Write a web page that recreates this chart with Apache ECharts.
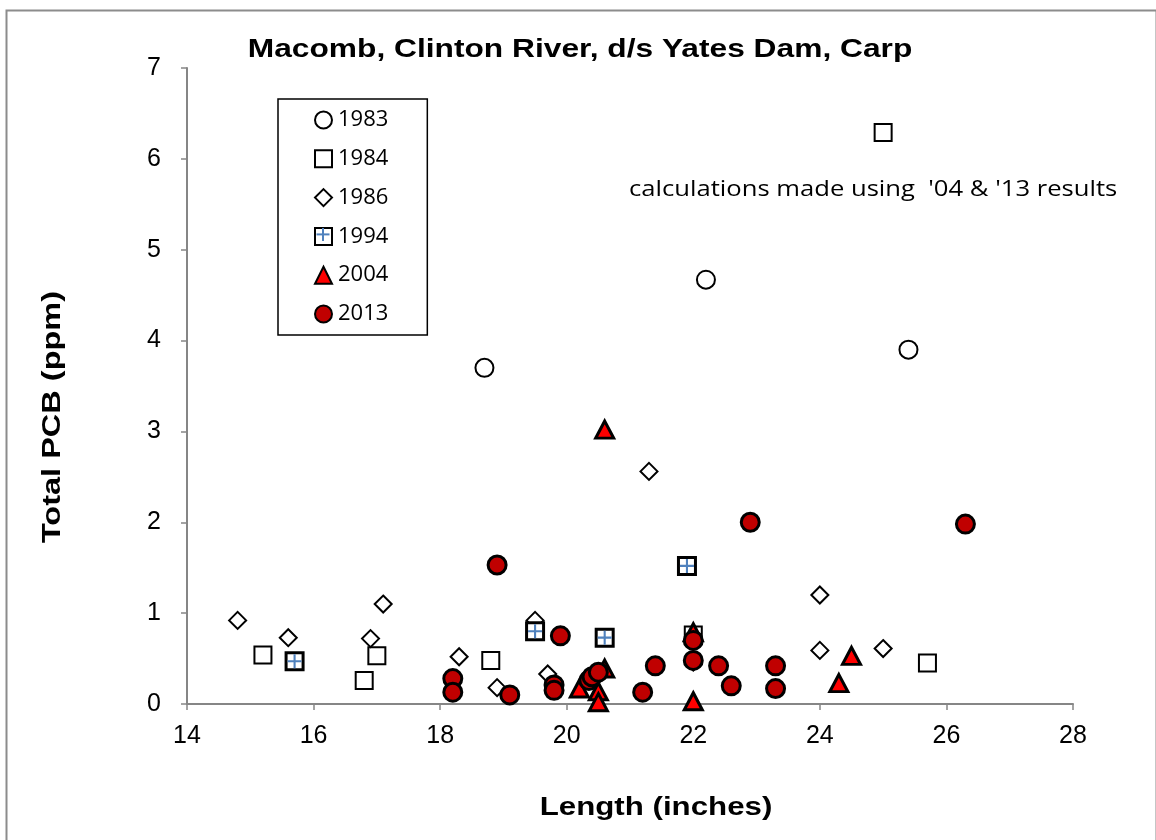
<!DOCTYPE html>
<html>
<head>
<meta charset="utf-8">
<script src="https://cdn.jsdelivr.net/npm/echarts@6/dist/echarts.min.js"></script>
<style>
  html, body { margin: 0; padding: 0; background: #fff; }
  #chart { width: 1156px; height: 840px; }
</style>
</head>
<body>
<div id="chart"></div>
<script>
// PCB vs length, one array of [length, ppm] per survey year
const years = ["1983", "1984", "1986", "1994", "2004", "2013"];
const xTicks = [14, 16, 18, 20, 22, 24, 26, 28];
const yTicks = [0, 1, 2, 3, 4, 5, 6, 7];

const y1983 = [[18.7, 3.7], [22.2, 4.67], [25.4, 3.9]];
const y1984 = [[15.2, 0.54], [16.8, 0.26], [17.0, 0.53], [18.8, 0.48], [22.0, 0.76], [25.0, 6.29], [25.7, 0.45]];
const y1986 = [[14.8, 0.92], [15.6, 0.73], [16.9, 0.72], [17.1, 1.10], [18.3, 0.52], [18.9, 0.18], [19.5, 0.92],
  [19.7, 0.33], [21.3, 2.56], [22.0, 0.46], [24.0, 1.20], [24.0, 0.59], [25.0, 0.61]];
const y1994 = [[15.7, 0.47], [19.5, 0.80], [20.6, 0.73], [21.9, 1.52]];
const y2004 = [[20.6, 3.02], [20.2, 0.17], [20.5, 0.14], [20.5, 0.02], [20.6, 0.39], [22.0, 0.79], [22.0, 0.03],
  [24.3, 0.23], [24.5, 0.53]];
const y2013 = [[18.2, 0.28], [18.2, 0.13], [18.9, 1.53], [19.1, 0.10], [19.8, 0.21], [19.8, 0.15], [19.9, 0.75],
  [20.35, 0.26], [20.4, 0.30], [20.5, 0.35], [21.2, 0.13], [21.4, 0.42], [22.0, 0.70], [22.0, 0.48],
  [22.4, 0.42], [22.6, 0.20], [22.9, 2.0], [23.3, 0.42], [23.3, 0.17], [26.3, 1.98]];

const crossPath = "path://M0,8.5 L20,8.5 L20,11.5 L0,11.5 Z M8.5,0 L11.5,0 L11.5,20 L8.5,20 Z";
const axisGray = "#868686";

const chart = echarts.init(document.getElementById("chart"), null, { renderer: "canvas" });

function hollow(name, data, symbol, size) {
  return {
    name, type: "scatter", data, symbol, symbolSize: size,
    itemStyle: { color: "#fff", borderColor: "#000", borderWidth: 2, opacity: 1 },
    emphasis: { disabled: true },
  };
}

// legend geometry: row pitch and the measured text row height
const legTop = 99, legRow = 38.8, legIcon = 17, legTextH = 22;
const crossY = 118 + 3 * legRow; // centre of the 1994 legend icon

const option = {
  backgroundColor: "#fff",
  animation: false,
  grid: { left: 187, right: 83, top: 68, bottom: 136 },
  xAxis: {
    type: "value", min: 14, max: 28, interval: 2,
    axisLine: { lineStyle: { color: axisGray, width: 2 } },
    axisTick: { length: 6, lineStyle: { color: axisGray, width: 1.5 } },
    axisLabel: { margin: 20, fontFamily: "Liberation Sans", fontSize: 25, color: "#000" },
    splitLine: { show: false },
  },
  yAxis: {
    type: "value", min: 0, max: 7, interval: 1,
    axisLine: { show: true, lineStyle: { color: axisGray, width: 2 } },
    axisTick: { show: true, length: 6, lineStyle: { color: axisGray, width: 1.5 } },
    axisLabel: { margin: 26, fontFamily: "Liberation Sans", fontSize: 25, color: "#000" },
    splitLine: { show: false },
  },
  legend: {
    data: years,
    orient: "vertical",
    left: 278, top: legTop,
    padding: [10, 39, 10, 36],
    itemWidth: legIcon, itemHeight: legIcon, itemGap: legRow - legTextH,
    borderColor: "#000", borderWidth: 1.5,
    textStyle: { fontFamily: "Open Sans", fontSize: 22, color: "#000", padding: [0, 0, 0, 1] },
    selectedMode: false,
  },
  graphic: [
    { type: "rect", left: 4, top: 8, shape: { width: 1150, height: 840 },
      style: { fill: "none", stroke: "#8c8c8c", lineWidth: 2 } },
    { type: "text", x: 580, y: 50, scaleX: 1.22,
      style: { text: "Macomb, Clinton River, d/s Yates Dam, Carp", font: "bold 26px 'Liberation Sans'", fill: "#000",
        align: "center", verticalAlign: "middle" } },
    { type: "text", x: 629, y: 190, scaleX: 1.22,
      style: { text: "calculations made using  '04 & '13 results", font: "21px 'Open Sans'", fill: "#000",
        align: "left", verticalAlign: "middle" } },
    { type: "text", x: 53, y: 417, rotation: Math.PI / 2, scaleX: 1.3,
      style: { text: "Total PCB (ppm)", font: "bold 25px 'Liberation Sans'", fill: "#000", align: "center", verticalAlign: "middle" } },
    { type: "text", x: 656, y: 808, scaleX: 1.25,
      style: { text: "Length (inches)", font: "bold 25px 'Liberation Sans'", fill: "#000", align: "center", verticalAlign: "middle" } },
    // blue cross inside the 1994 legend icon
    { type: "rect", shape: { x: 316.5, y: crossY - 1, width: 13, height: 2 }, style: { fill: "#4F81BD" }, z: 100 },
    { type: "rect", shape: { x: 322, y: crossY - 6.5, width: 2, height: 13 }, style: { fill: "#4F81BD" }, z: 100 },
  ],
  series: [
    hollow("1983", y1983, "circle", 18),
    hollow("1984", y1984, "rect", 17),
    hollow("1986", y1986, "diamond", 17),
    {
      name: "1994", type: "scatter", data: y1994, symbol: "rect", symbolSize: 17,
      itemStyle: { color: "#fff", borderColor: "#000", borderWidth: 3, opacity: 1 },
      emphasis: { disabled: true },
    },
    {
      name: "1994 cross", type: "scatter", data: y1994, symbol: crossPath, symbolSize: 14,
      itemStyle: { color: "#4F81BD", opacity: 1 },
      emphasis: { disabled: true },
    },
    {
      name: "2004", type: "scatter", data: y2004, symbol: "triangle", symbolSize: [18, 17],
      itemStyle: { color: "#FF0000", borderColor: "#000", borderWidth: 3, opacity: 1 },
      emphasis: { disabled: true },
    },
    {
      name: "2013", type: "scatter", data: y2013, symbol: "circle", symbolSize: 18,
      itemStyle: { color: "#C00000", borderColor: "#000", borderWidth: 3, opacity: 1 },
      emphasis: { disabled: true },
    },
  ],
};

chart.setOption(option);
</script>
</body>
</html>
